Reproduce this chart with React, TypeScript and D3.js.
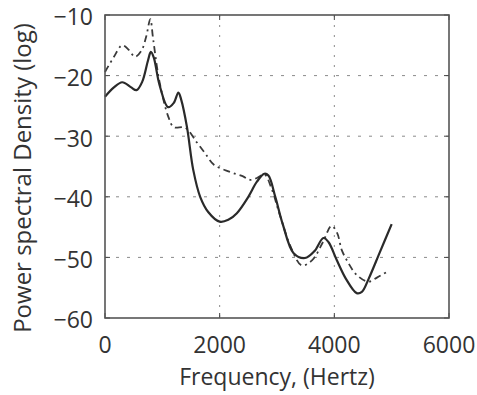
import { useEffect, useRef } from "react";
import * as d3 from "d3";

// solid trace: [frequency Hz, PSD]
const solidFreq = [0, 150, 300, 450, 550, 650, 750, 800, 850, 950, 1100, 1200, 1280, 1330, 1430, 1540, 1660, 1800, 2000, 2150, 2300, 2500, 2650, 2780, 2850, 2970, 3100, 3290, 3490, 3650, 3810, 3900, 4040, 4200, 4390, 4480, 4600, 4800, 5000];
const solidPsd = [-23.5, -22, -21.1, -21.9, -22.4, -21, -17.5, -16.1, -17, -21.5, -25.2, -24.5, -22.8, -24, -28.5, -35.6, -40, -42.5, -44.1, -43.8, -42.7, -40, -37.5, -36.2, -36.5, -40, -44.5, -49.3, -50.1, -49, -46.8, -47.5, -50.4, -53.5, -55.9, -55.7, -53.5, -49, -44.5];

// dash-dot trace
const dashFreq = [0, 150, 300, 420, 524, 640, 720, 790, 840, 950, 1105, 1200, 1400, 1600, 1745, 1900, 2180, 2400, 2530, 2650, 2780, 2900, 3050, 3250, 3430, 3610, 3800, 3950, 4050, 4130, 4250, 4390, 4590, 4750, 4950];
const dashPsd = [-19.4, -17, -15, -15.8, -16.9, -15.8, -13.5, -10.7, -14, -21, -26.8, -28.5, -28.6, -31, -32.8, -34.7, -35.9, -36.6, -37.2, -36.9, -36.3, -38.5, -43, -48.5, -51.3, -50.5, -47.5, -44.8, -46, -48.8, -51, -52.9, -54, -53.3, -52.2];

const xTicks = [0, 2000, 4000, 6000];
const yTicks = [-10, -20, -30, -40, -50, -60];

export default function App() {
  const ref = useRef<HTMLDivElement>(null);

  useEffect(() => {
    if (!ref.current) return;
    const container = ref.current;
    container.innerHTML = "";

    const width = 477;
    const height = 395;
    const margin = { top: 15, right: 28, bottom: 77, left: 105 };
    const innerWidth = width - margin.left - margin.right;
    const innerHeight = height - margin.top - margin.bottom;
    const font = "'Open Sans', sans-serif";

    const svg = d3
      .select(container)
      .append("svg")
      .attr("width", width)
      .attr("height", height)
      .style("display", "block");

    svg.append("rect").attr("width", width).attr("height", height).attr("fill", "white");

    const g = svg.append("g").attr("transform", `translate(${margin.left},${margin.top})`);

    const x = d3.scaleLinear().domain([0, 6000]).range([0, innerWidth]);
    const y = d3.scaleLinear().domain([-60, -10]).range([innerHeight, 0]);

    // dotted grid
    g.selectAll("line.gx")
      .data(xTicks.slice(1, -1))
      .join("line")
      .attr("x1", (d) => x(d))
      .attr("x2", (d) => x(d))
      .attr("y1", 0)
      .attr("y2", innerHeight)
      .attr("stroke", "#8a8a8a")
      .attr("stroke-width", 1)
      .attr("stroke-dasharray", "2,8");
    g.selectAll("line.gy")
      .data(yTicks.slice(1, -1))
      .join("line")
      .attr("x1", 0)
      .attr("x2", innerWidth)
      .attr("y1", (d) => y(d))
      .attr("y2", (d) => y(d))
      .attr("stroke", "#8a8a8a")
      .attr("stroke-width", 1)
      .attr("stroke-dasharray", "3,8");

    // inward ticks on all four sides
    const tl = 5;
    xTicks.forEach((t) => {
      g.append("line").attr("x1", x(t)).attr("x2", x(t)).attr("y1", innerHeight).attr("y2", innerHeight - tl).attr("stroke", "#444");
      g.append("line").attr("x1", x(t)).attr("x2", x(t)).attr("y1", 0).attr("y2", tl).attr("stroke", "#444");
    });
    yTicks.forEach((t) => {
      g.append("line").attr("x1", 0).attr("x2", tl).attr("y1", y(t)).attr("y2", y(t)).attr("stroke", "#444");
      g.append("line").attr("x1", innerWidth).attr("x2", innerWidth - tl).attr("y1", y(t)).attr("y2", y(t)).attr("stroke", "#444");
    });

    const line = d3
      .line<[number, number]>()
      .x((d) => x(d[0]))
      .y((d) => y(d[1]))
      .curve(d3.curveCatmullRom.alpha(0.5));

    const dashData = dashFreq.map((f, i) => [f, dashPsd[i]] as [number, number]);
    const solidData = solidFreq.map((f, i) => [f, solidPsd[i]] as [number, number]);

    g.append("path")
      .attr("d", line(dashData)!)
      .attr("fill", "none")
      .attr("stroke", "#3a3a3a")
      .attr("stroke-width", 1.8)
      .attr("stroke-dasharray", "7,4,2,4");

    g.append("path")
      .attr("d", line(solidData)!)
      .attr("fill", "none")
      .attr("stroke", "#2a2a2a")
      .attr("stroke-width", 2.2);

    // axes box
    g.append("rect")
      .attr("width", innerWidth)
      .attr("height", innerHeight)
      .attr("fill", "none")
      .attr("stroke", "#555")
      .attr("stroke-width", 1.6);

    // tick labels
    g.selectAll("text.xt")
      .data(xTicks)
      .join("text")
      .attr("x", (d) => x(d))
      .attr("y", innerHeight + 35)
      .attr("text-anchor", "middle")
      .style("font-family", font)
      .style("font-size", "23px")
      .style("fill", "#333")
      .text((d) => String(d));

    g.selectAll("text.yt")
      .data(yTicks)
      .join("text")
      .attr("x", -12)
      .attr("y", (d) => y(d))
      .attr("dy", "0.45em")
      .attr("text-anchor", "end")
      .style("font-family", font)
      .style("font-size", "23px")
      .style("fill", "#333")
      .text((d) => `\u2212${Math.abs(d)}`);

    svg.append("text")
      .attr("x", margin.left + innerWidth / 2)
      .attr("y", 385)
      .attr("text-anchor", "middle")
      .style("font-family", font)
      .style("font-size", "23px")
      .style("fill", "#333")
      .text("Frequency, (Hertz)");

    svg.append("text")
      .attr("transform", `translate(31,178) rotate(-90)`)
      .attr("text-anchor", "middle")
      .style("font-family", font)
      .style("font-size", "24px")
      .style("fill", "#333")
      .text("Power spectral Density (log)");
  }, []);

  return <div ref={ref} style={{ position: "absolute", left: 0, top: 0 }} />;
}
